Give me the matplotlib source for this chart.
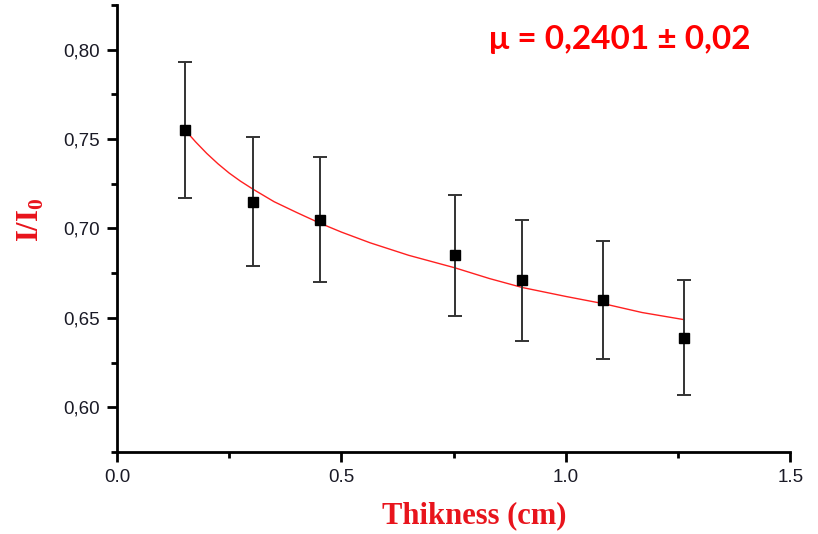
import numpy as np
import matplotlib.pyplot as plt
from matplotlib.ticker import FuncFormatter, MultipleLocator

# measured points
thickness = [0.152, 0.303, 0.452, 0.753, 0.903, 1.083, 1.264]
ratio = [0.755, 0.715, 0.705, 0.685, 0.671, 0.660, 0.639]
ratio_err = [0.038, 0.036, 0.035, 0.034, 0.034, 0.033, 0.032]

# fitted curve
fit_x = [0.152, 0.175, 0.20, 0.225, 0.25, 0.275, 0.303, 0.35, 0.40, 0.452, 0.50,
         0.564, 0.65, 0.753, 0.83, 0.903, 1.00, 1.083, 1.17, 1.264]
fit_y = [0.755, 0.7485, 0.742, 0.7362, 0.731, 0.7265, 0.722, 0.715, 0.709, 0.703,
         0.698, 0.692, 0.685, 0.678, 0.672, 0.667, 0.662, 0.658, 0.653, 0.649]

plt.rcParams['font.family'] = ['Liberation Sans', 'DejaVu Sans']

fig = plt.figure(figsize=(8.18, 5.34), dpi=100)
ax = fig.add_axes([0.143, 0.1536, 0.823, 0.837])

ax.plot(fit_x, fit_y, color='#ff2020', lw=1.0, zorder=2)
ax.errorbar(thickness, ratio, yerr=ratio_err, fmt='s', color='black',
            ecolor='#333333', elinewidth=1.4, capsize=5, capthick=1.4,
            markersize=7, zorder=3)

ax.set_xlim(0, 1.5)
ax.set_ylim(0.575, 0.825)
ax.xaxis.set_major_locator(MultipleLocator(0.5))
ax.xaxis.set_minor_locator(MultipleLocator(0.25))
ax.yaxis.set_major_locator(MultipleLocator(0.05))
ax.yaxis.set_minor_locator(MultipleLocator(0.025))
ax.xaxis.set_major_formatter(FuncFormatter(lambda v, p: f"{v:.1f}"))
ax.yaxis.set_major_formatter(FuncFormatter(lambda v, p: f"{v:.2f}".replace('.', ',')))

for s in ['top', 'right']:
    ax.spines[s].set_visible(False)
for s in ['left', 'bottom']:
    ax.spines[s].set_linewidth(2)
ax.tick_params(which='major', length=7, width=2, labelsize=13.5,
               labelcolor='#1a1a26', pad=5)
ax.tick_params(which='minor', length=4, width=2)

ax.set_xlabel('Thikness (cm)', family='Liberation Serif', fontweight='bold',
              fontsize=22, color='#e8141c')
ax.xaxis.set_label_coords(0.53, -0.11)
ax.set_ylabel('I/I$_\\mathregular{0}$', family='Liberation Serif', fontweight='bold',
              fontsize=22, color='#e8141c')
ax.yaxis.set_label_coords(-0.105, 0.52)

ax.text(0.747, 0.922, 'μ = 0,2401 ± 0,02', transform=ax.transAxes,
        family=['Lato', 'DejaVu Sans'], fontweight='bold', fontsize=24,
        color='#ff0000', ha='center', va='center')

fig.savefig('out.png', dpi=100)
